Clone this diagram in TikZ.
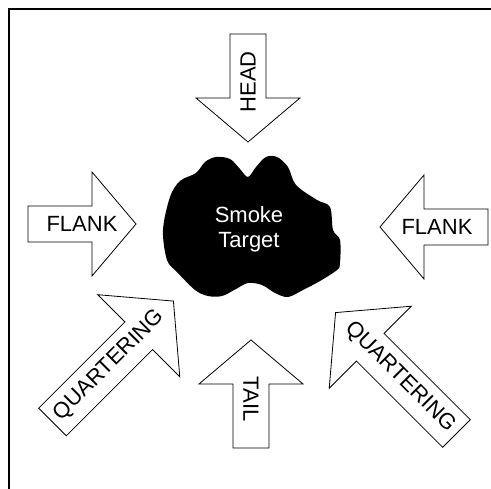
\documentclass[tikz,border=0pt]{standalone}
\usepackage{fontspec}
\setmainfont{Liberation Sans}
\usepackage{tikz}
\usetikzlibrary{arrows.meta,positioning}

\tikzset{
  pointer/.style={draw=black,fill=white,line width=0.8pt,line join=miter},
  lbl/.style={font=\fontsize{22}{25}\selectfont,inner sep=0pt},
}

\begin{document}
\begin{tikzpicture}[x=1pt,y=1pt]
        \useasboundingbox (0,0) rectangle (491,489);
        % frame (cropped on the right and bottom)
        \draw[line width=2.6pt] (9,0) -- (9,480) -- (491,480);
        % smoke cloud
        \fill[black] plot[smooth cycle,tension=0.55] coordinates {
          (337,219) (320,208) (303,199) (288,192) (275,196) (262,204)
          (248,206) (236,200) (222,193) (208,193) (195,199) (177,217)
          (167,229) (163,259) (170,292) (180,308) (196,316) (205,327)
          (216,332) (230,330) (240,320) (248,312) (256,322) (266,332)
          (277,332) (288,322) (296,304) (317,289) (330,282) (333,259)
          (340,249) (340,226)};
        \node[lbl,white,align=center] (target) at (249,259.5) {Smoke\\Target};
        % short arrows: tail x / tail y / direction / label offset / label turn
        \foreach \nm/\tx/\ty/\ang/\d/\rot/\txt in {
            head/248/455/-90/48/90/HEAD,
            tail/251/41/90/49/-90/TAIL,
            flankl/28/265/0/54/0/FLANK,
            flankr/488/262/180/51/0/FLANK}
        {
          \draw[pointer,shift={(\tx,\ty)},rotate=\ang]
            (0,-18) -- (64,-18) -- (64,-52) -- (108,0) -- (64,52) -- (64,18) -- (0,18) -- cycle;
          \node[lbl,rotate=\rot] (\nm) at ([shift={(\ang:\d)}]\tx,\ty) {\txt};
        }
        % long arrows from the corners
        \foreach \nm/\tx/\ty/\ang/\rot in {
            quartl/52.5/67/45/45,
            quartr/456.5/55.5/135/-45}
        {
          \draw[pointer,shift={(\tx,\ty)},rotate=\ang]
            (0,-19.5) -- (122,-19.5) -- (122,-58) -- (171,0) -- (122,58) -- (122,19.5) -- (0,19.5) -- cycle;
          \node[lbl,rotate=\rot] (\nm) at ([shift={(\ang:80)}]\tx,\ty) {QUARTERING};
        }
      \end{tikzpicture}
\end{document}
